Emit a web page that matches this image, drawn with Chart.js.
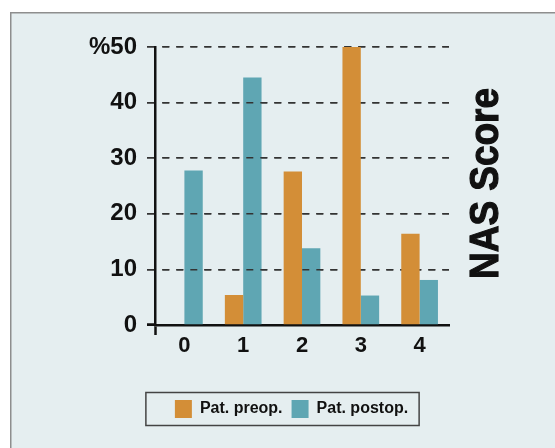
<!DOCTYPE html>
<html>
<head>
<meta charset="utf-8">
<script src="https://cdn.jsdelivr.net/npm/chart.js@4/dist/chart.umd.min.js"></script>
<style>
html,body{margin:0;padding:0;background:#fff;}
canvas{display:block;}
</style>
</head>
<body>
<canvas id="c" width="555" height="448"></canvas>
<script>
const categories = ['0', '1', '2', '3', '4'];
const preopValues = [0, 5.4, 27.6, 50, 16.4];
const postopValues = [27.8, 44.5, 13.8, 5.3, 8.1];
const seriesNames = ['Pat. preop.', 'Pat. postop.'];
const yTickLabels = ['0', '10', '20', '30', '40', '%50'];
const chartTitle = 'NAS Score';

const FONT = "'Liberation Sans', Arial, sans-serif";
Chart.defaults.font.family = FONT;

const decoPlugin = {
  id: 'deco',
  beforeDraw(chart) {
    const ctx = chart.ctx;
    ctx.save();
    ctx.fillStyle = '#ffffff';
    ctx.fillRect(0, 0, chart.width, chart.height);
    ctx.fillStyle = '#e5eef0';
    ctx.fillRect(10, 12, chart.width - 10, chart.height - 12);
    ctx.strokeStyle = '#8e8e8e';
    ctx.lineWidth = 1.5;
    ctx.beginPath();
    ctx.moveTo(10.75, chart.height);
    ctx.lineTo(10.75, 12.75);
    ctx.lineTo(chart.width, 12.75);
    ctx.stroke();
    ctx.restore();
  },
  afterDatasetDraw(chart, args) {
    // in the reference the dashed grid runs over the postop bars, under the preop bars
    if (args.index === 1) {
      chart.scales.y.drawGrid(chart.chartArea);
    }
  },
  afterDraw(chart) {
    const ctx = chart.ctx;
    ctx.save();
    const lg = chart.legend;
    if (lg && lg.legendHitBoxes && lg.legendHitBoxes.length) {
      const hb = lg.legendHitBoxes;
      const first = hb[0], last = hb[hb.length - 1];
      const l = first.left - 29;
      const r = last.left + last.width + 11;
      const cy = first.top + first.height / 2;
      ctx.strokeStyle = '#444';
      ctx.lineWidth = 1.5;
      ctx.strokeRect(l, cy - 16.5, r - l, 33);
    }
    // rotated title, condensed to the reference length
    ctx.translate(498, 183.5);
    ctx.rotate(-Math.PI / 2);
    ctx.font = "bold 41px 'Liberation Sans', Arial, sans-serif";
    const w = ctx.measureText(chartTitle).width;
    ctx.scale(191 / w, 1);
    ctx.fillStyle = '#111';
    ctx.strokeStyle = '#111';
    ctx.lineWidth = 1.2;
    ctx.textAlign = 'center';
    ctx.textBaseline = 'alphabetic';
    ctx.fillText(chartTitle, 0, 0);
    ctx.strokeText(chartTitle, 0, 0);
    ctx.restore();
  }
};

new Chart(document.getElementById('c'), {
  type: 'bar',
  data: {
    labels: categories,
    datasets: [
      { label: seriesNames[0], data: preopValues, backgroundColor: '#d38e37', borderWidth: 0 },
      { label: seriesNames[1], data: postopValues, backgroundColor: '#5fa6b3', borderWidth: 0 }
    ]
  },
  options: {
    responsive: false,
    animation: false,
    devicePixelRatio: 1,
    categoryPercentage: 0.624,
    barPercentage: 1.0,
    layout: { padding: { top: 47, left: 28, right: 0, bottom: 20 } },
    plugins: {
      tooltip: { enabled: false },
      title: { display: false },
      legend: {
        position: 'bottom',
        labels: {
          boxWidth: 17,
          boxHeight: 18,
          padding: 9,
          color: '#111',
          font: { family: FONT, size: 16, weight: 'bold' }
        }
      }
    },
    scales: {
      x: {
        offset: true,
        grid: {
          display: true,
          drawOnChartArea: false,
          drawTicks: true,
          tickLength: 10,
          offset: true,
          tickColor: (c) => c.index === 0 ? '#111' : 'rgba(0,0,0,0)',
          tickWidth: 2.5
        },
        border: { display: true, color: '#111', width: 2.5 },
        ticks: {
          color: '#111',
          padding: -2,
          font: { family: FONT, size: 22, weight: 'bold' }
        },
        afterFit(s) { s.height = 66; }
      },
      y: {
        min: 0,
        max: 50,
        ticks: {
          stepSize: 10,
          padding: 10,
          color: '#111',
          font: { family: FONT, size: 24, weight: 'bold' },
          callback: (v, i) => yTickLabels[i]
        },
        grid: {
          color: (c) => c.tick && c.tick.value === 0 ? 'rgba(0,0,0,0)' : '#333',
          lineWidth: 1.5,
          tickLength: 8,
          tickColor: (c) => c.tick && c.tick.value === 0 ? '#111' : '#333',
          tickWidth: (c) => c.tick && c.tick.value === 0 ? 2.5 : 1.5,
          tickBorderDash: []
        },
        border: { display: true, color: '#111', width: 2.5, dash: [7, 7], dashOffset: 8.2 },
        afterFit(s) { s.width = 127; }
      },
      yR: {
        position: 'right',
        display: true,
        grid: { display: false, drawTicks: false },
        border: { display: false },
        ticks: { display: false },
        afterFit(s) { s.width = 106; }
      }
    }
  },
  plugins: [decoPlugin]
});
</script>
</body>
</html>
